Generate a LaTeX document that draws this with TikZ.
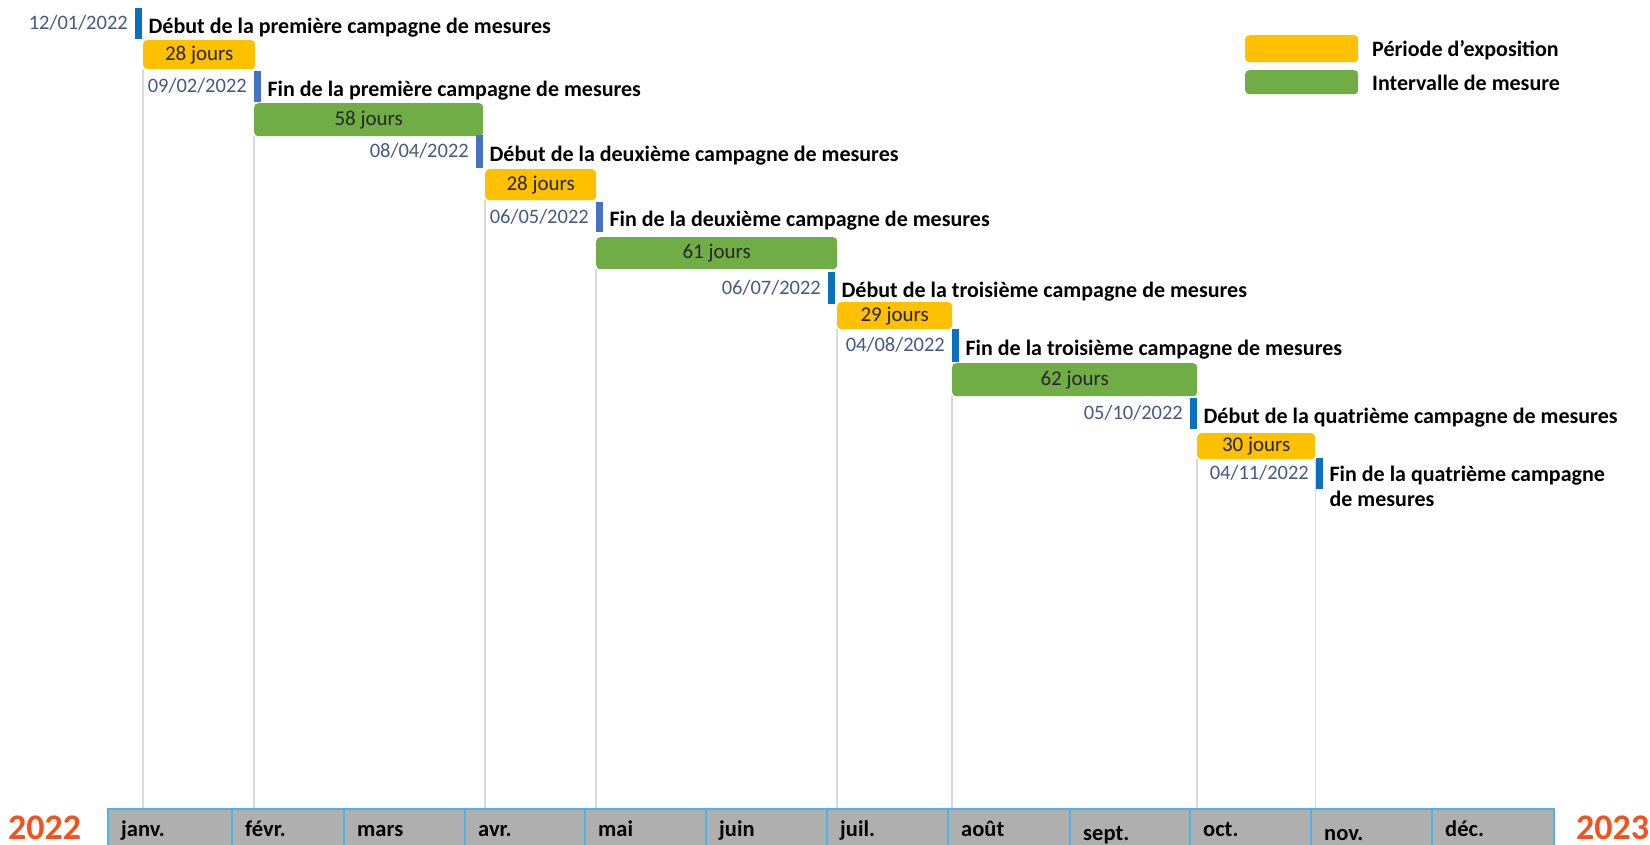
\documentclass[tikz,border=0pt]{standalone}
\usepackage{fontspec}
\setmainfont{Carlito}
\usetikzlibrary{calc}
\definecolor{expoY}{HTML}{FFC000}
\definecolor{measG}{HTML}{70AD47}
\definecolor{mkA}{HTML}{0A70C0}
\definecolor{mkB}{HTML}{4472C4}
\definecolor{dateC}{HTML}{44598A}
\definecolor{gridC}{HTML}{D9D9D9}
\definecolor{axisB}{HTML}{4DB3E6}
\definecolor{axisF}{HTML}{AFAFAF}
\definecolor{yearC}{HTML}{F4511E}
\begin{document}
\begin{tikzpicture}[x=1pt,y=-1pt,
  bar/.style={rounded corners=4pt, inner sep=0pt, anchor=north west, font=\fontsize{21}{25}\selectfont, text=black!85},
  expo/.style={bar, fill=expoY},
  meas/.style={bar, fill=measG},
  mk/.style={fill=#1, draw=none, inner sep=0pt, minimum width=7pt, anchor=north west},
  datel/.style={anchor=base east, inner sep=0pt, text=dateC, font=\fontsize{20.5}{25}\selectfont},
  evl/.style={anchor=base west, inner sep=0pt, font=\fontsize{22}{25.5}\selectfont\bfseries},
  gridl/.style={draw=gridC, line width=1.3pt},
  month/.style={draw=axisB, line width=1.8pt, fill=axisF, anchor=north west, minimum height=44pt, inner sep=0pt},
  monthl/.style={anchor=base west, inner sep=0pt, font=\fontsize{22.5}{26}\selectfont\bfseries},
  year/.style={font=\fontsize{36}{40}\selectfont\bfseries, text=yearC, inner sep=0pt, anchor=base west}
]
\path[use as bounding box, fill=white] (0,0) rectangle (1650,845);

% bars
\node[expo, minimum width=112pt, minimum height=29pt] (y1) at (143,40) {28 jours};
\node[meas, minimum width=229pt, minimum height=33pt] (g1) at (254,103) {58 jours};
\node[expo, minimum width=111pt, minimum height=31pt] (y2) at (485,169) {28 jours};
\node[meas, minimum width=241pt, minimum height=32pt] (g2) at (596,237) {61 jours};
\node[expo, minimum width=115pt, minimum height=27pt] (y3) at (837,302) {29 jours};
\node[meas, minimum width=245pt, minimum height=33pt] (g3) at (952,363) {62 jours};
\node[expo, minimum width=118pt, minimum height=26pt] (y4) at (1197,433) {30 jours};

% markers
\node[mk=mkA, minimum height=31pt] (k1) at (135,8) {};
\node[mk=mkB, minimum height=31pt] (k2) at (254,71) {};
\node[mk=mkB, minimum height=33pt] (k3) at (476,135) {};
\node[mk=mkB, minimum height=30pt] (k4) at (596,202) {};
\node[mk=mkA, minimum height=32pt] (k5) at (828,272) {};
\node[mk=mkA, minimum height=33pt] (k6) at (952,329) {};
\node[mk=mkA, minimum height=31pt] (k7) at (1190,398) {};
\node[mk=mkA, minimum height=31pt] (k8) at (1316,458) {};

% dates
\node[datel] (d1) at ($(k1.west)+(-7,6)$) {12/01/2022};
\node[datel] (d2) at ($(k2.west)+(-7,6)$) {09/02/2022};
\node[datel] (d3) at ($(k3.west)+(-7,6)$) {08/04/2022};
\node[datel] (d4) at ($(k4.west)+(-7,6)$) {06/05/2022};
\node[datel] (d5) at ($(k5.west)+(-7,6)$) {06/07/2022};
\node[datel] (d6) at ($(k6.west)+(-7,6)$) {04/08/2022};
\node[datel] (d7) at ($(k7.west)+(-7,6)$) {05/10/2022};
\node[datel] (d8) at ($(k8.west)+(-7,6)$) {04/11/2022};

% event labels
\node[evl] (e1) at ($(k1.east)+(6,9.5)$) {Début de la première campagne de mesures};
\node[evl] (e2) at ($(k2.east)+(6,9.5)$) {Fin de la première campagne de mesures};
\node[evl] (e3) at ($(k3.east)+(6,9.5)$) {Début de la deuxième campagne de mesures};
\node[evl] (e4) at ($(k4.east)+(6,9.5)$) {Fin de la deuxième campagne de mesures};
\node[evl] (e5) at ($(k5.east)+(6,9.5)$) {Début de la troisième campagne de mesures};
\node[evl] (e6) at ($(k6.east)+(6,9.5)$) {Fin de la troisième campagne de mesures};
\node[evl] (e7) at ($(k7.east)+(6,9.5)$) {Début de la quatrième campagne de mesures};
\node[evl, align=left] (e8) at ($(k8.east)+(6,33)$) {Fin de la quatrième campagne\\de mesures};

% legend
\node[expo, minimum width=113pt, minimum height=27pt] (ly) at (1245,35) {};
\node[meas, minimum width=113pt, minimum height=24pt] (lg) at (1245,70) {};
\node[evl] (lyt) at (1372,57) {Période d’exposition};
\node[evl] (lgt) at (1372,91) {Intervalle de mesure};

% month axis
\foreach \x/\w/\lab/\dy [count=\i] in {107/124/janv./0, 231/112/févr./0, 343/121/mars/0, 464/120/avr./0, 584/121/mai/0, 705/121/juin/0, 826/121/juil./0, 947/122/août/0, 1069/120/sept./4, 1189/121/oct./0, 1310/121/nov./4, 1431/122/déc./0} {
  \node[month, minimum width=\w pt] (m\i) at (\x,808) {};
  \node[monthl] (ml\i) at ($(m\i.north west)+(14,28+\dy)$) {\lab};
}

% grid lines
\draw[gridl] (y1.south west) -- (y1.south west |- m1.north);
\draw[gridl] (g1.south west) -- (g1.south west |- m1.north);
\draw[gridl] (y2.south west) -- (y2.south west |- m1.north);
\draw[gridl] (g2.south west) -- (g2.south west |- m1.north);
\draw[gridl] (y3.south west) -- (y3.south west |- m1.north);
\draw[gridl] (g3.south west) -- (g3.south west |- m1.north);
\draw[gridl] (y4.south west) -- (y4.south west |- m1.north);
\draw[gridl] (y4.south east) -- (y4.south east |- m1.north);

% years
\node[year] (yr1) at (8,839) {2022};
\node[year] (yr2) at (1576,839) {2023};
\end{tikzpicture}
\end{document}
